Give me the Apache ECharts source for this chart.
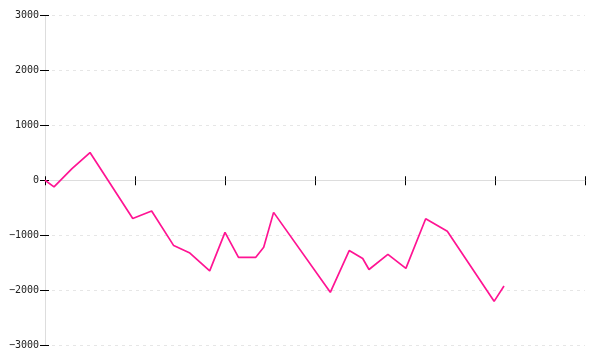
<!DOCTYPE html>
<html>
<head>
<meta charset="utf-8">
<script src="https://cdn.jsdelivr.net/npm/echarts@6/dist/echarts.min.js"></script>
<style>html,body{margin:0;padding:0;background:#fff;}#c{width:600px;height:360px;}</style>
</head>
<body>
<div id="c"></div>
<script>
var xValues = [0, 1, 3, 5, 9.75, 11.85, 14.3, 16.1, 18.3, 20, 21.5, 23.4, 24.3, 25.4, 31.7, 33.8, 35.3, 36, 38.1, 40.1, 42.3, 44.7, 49.9, 51];
var yValues = [0, -120, 210, 505, -695, -560, -1190, -1325, -1650, -950, -1405, -1405, -1220, -585, -2040, -1280, -1425, -1625, -1350, -1605, -700, -930, -2205, -1925];
var yTicks = [-3000, -2000, -1000, 0, 1000, 2000, 3000];

var chart = echarts.init(document.getElementById('c'), null, {renderer: 'canvas'});
var data = xValues.map(function (x, i) { return [x, yValues[i]]; });
var tickColor = '#000';
var axisColor = '#dddddd';
var fontFamily = 'DejaVu Sans Mono';

function fmt(v) {
  return v < 0 ? '\u2212' + String(-v) : String(v);
}

chart.setOption({
  animation: false,
  grid: {left: 45, right: 15, top: 15.5, bottom: 15, containLabel: false},
  xAxis: [{
    type: 'value', min: 0, max: 60, interval: 10, position: 'bottom',
    axisLine: {show: true, onZero: true, lineStyle: {color: axisColor, width: 1}},
    axisTick: {show: true, inside: false, length: 5, lineStyle: {color: tickColor}},
    axisLabel: {show: false},
    splitLine: {show: false}
  }, {
    type: 'value', min: 0, max: 60, interval: 10, position: 'top',
    axisLine: {show: false, onZero: true},
    axisTick: {show: true, inside: false, length: 4, lineStyle: {color: tickColor}},
    axisLabel: {show: false},
    splitLine: {show: false}
  }],
  yAxis: [{
    type: 'value', min: yTicks[0], max: yTicks[yTicks.length - 1], interval: 1000, position: 'left',
    axisLine: {show: true, onZero: false, lineStyle: {color: axisColor, width: 1}},
    axisTick: {show: true, inside: false, length: 5, lineStyle: {color: tickColor}},
    axisLabel: {show: true, margin: 6, color: '#222', fontFamily: fontFamily, fontSize: 10, formatter: fmt},
    splitLine: {show: true, lineStyle: {color: '#e6e6e6', type: [3, 4], width: 1}}
  }, {
    type: 'value', min: yTicks[0], max: yTicks[yTicks.length - 1], interval: 1000, position: 'right',
    axisLine: {show: false, onZero: true},
    axisTick: {show: true, inside: false, length: 4, lineStyle: {color: tickColor}},
    axisLabel: {show: false},
    splitLine: {show: false}
  }],
  series: [{
    type: 'line',
    xAxisIndex: 0, yAxisIndex: 0,
    data: data,
    showSymbol: false,
    symbol: 'none',
    lineStyle: {color: '#ff1493', width: 1.7},
    itemStyle: {color: '#ff1493'},
    z: 5
  }]
});
</script>
</body>
</html>
